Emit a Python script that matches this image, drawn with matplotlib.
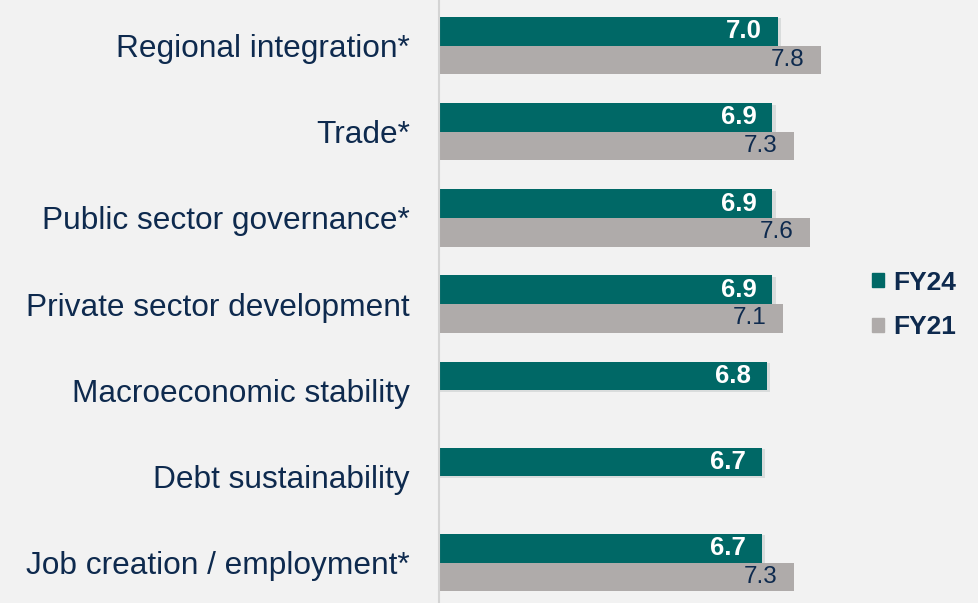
import numpy as np
import matplotlib.pyplot as plt
from matplotlib.patches import Patch
import matplotlib.patheffects as pe

categories = ['Regional integration*', 'Trade*', 'Public sector governance*',
              'Private sector development', 'Macroeconomic stability',
              'Debt sustainability', 'Job creation / employment*']
fy24 = [7.0, 6.9, 6.9, 6.9, 6.8, 6.7, 6.7]
fy21 = [7.8, 7.3, 7.6, 7.1, np.nan, np.nan, 7.3]

teal = '#006866'
grey = '#AFABAA'
navy = '#0E2A4E'
bg = '#F2F2F2'

plt.rcParams['font.family'] = ['Liberation Sans', 'DejaVu Sans']

fig = plt.figure(figsize=(9.79, 6.03), dpi=100, facecolor=bg)
ax = fig.add_axes([439 / 979, 0, (860 - 439) / 979, 1], facecolor=bg)

y = np.arange(len(categories))
h = 0.333
shadow = [pe.SimplePatchShadow(offset=(2.5, -1), alpha=0.1), pe.Normal()]
b24 = ax.barh(y - h / 2, fy24, height=h, color=teal, path_effects=shadow)
b21 = ax.barh(y + h / 2, fy21, height=h, color=grey)

for i, v in enumerate(fy24):
    ax.text(v - 0.29, y[i] - h / 2, f'{v:.1f}', ha='right', va='center',
            color='white', fontsize=18.5, fontweight='bold')
for i, v in enumerate(fy21):
    if not np.isnan(v):
        ax.text(v - 0.31, y[i] + h / 2, f'{v:.1f}', ha='right', va='center',
                color=navy, fontsize=17.5)

ax.set_xlim(0.7, 0.7 + (860 - 439) / 53.75)
ax.set_ylim(6.47, -0.53)
ax.set_yticks(y)
ax.set_yticklabels(categories, fontsize=22.8, color=navy)
ax.tick_params(axis='y', length=0, pad=21)
ax.set_xticks([])
for s in ['top', 'right', 'bottom']:
    ax.spines[s].set_visible(False)
ax.spines['left'].set_color('#D4D4D4')
ax.spines['left'].set_linewidth(1.5)

handles = [Patch(color=teal, label='FY24'), Patch(color=grey, label='FY21')]
leg = fig.legend(handles=handles, loc='center left', bbox_to_anchor=(859 / 979, 1 - 305 / 603),
                 frameon=False, handlelength=0.45, handleheight=0.45, handletextpad=0.35,
                 labelspacing=0.78, borderpad=0, prop={'size': 19, 'weight': 'bold'})
for t in leg.get_texts():
    t.set_color(navy)

fig.savefig('out.png', dpi=100, facecolor=bg)
